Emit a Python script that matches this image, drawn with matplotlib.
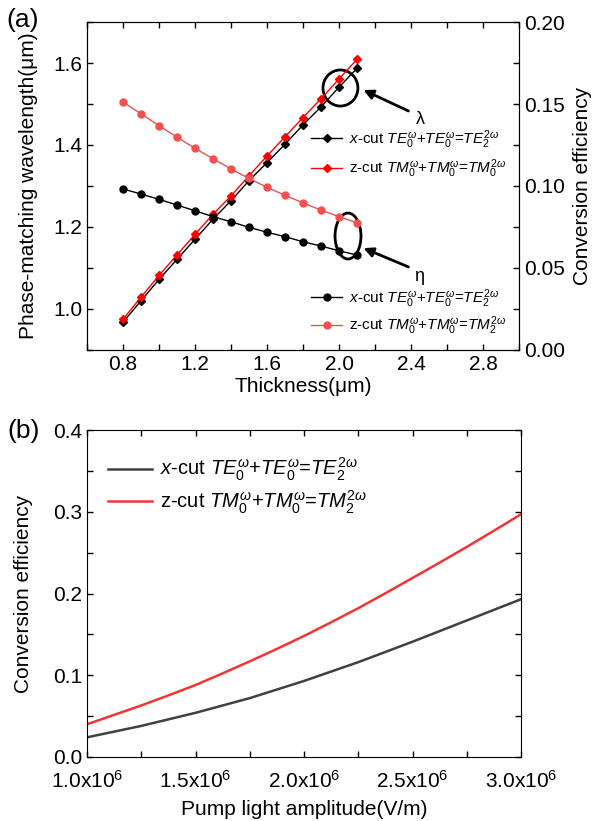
import matplotlib as mpl
mpl.use('Agg')
import matplotlib.pyplot as plt
import numpy as np
from matplotlib.patches import Ellipse
from matplotlib.ticker import MultipleLocator, FuncFormatter

plt.rcParams['font.family'] = ['Liberation Sans', 'DejaVu Sans']
plt.rcParams['mathtext.fontset'] = 'custom'
plt.rcParams['mathtext.rm'] = 'Liberation Sans'
plt.rcParams['mathtext.it'] = 'Liberation Sans:italic'
plt.rcParams['mathtext.bf'] = 'Liberation Sans:bold'

# (a) thickness sweep
thickness = [0.8, 0.9, 1.0, 1.1, 1.2, 1.3, 1.4, 1.5, 1.6, 1.7, 1.8, 1.9, 2.0, 2.1]
lam_x = [0.968, 1.020, 1.072, 1.121, 1.170, 1.219, 1.264, 1.313, 1.357, 1.402, 1.449, 1.493, 1.541, 1.587]
lam_z = [0.975, 1.029, 1.082, 1.132, 1.182, 1.231, 1.276, 1.325, 1.373, 1.420, 1.467, 1.513, 1.561, 1.609]
eta_x = [0.0982, 0.0951, 0.0919, 0.0884, 0.0849, 0.0813, 0.0782, 0.0748, 0.0718, 0.0691, 0.0660, 0.0634, 0.0605, 0.0579]
eta_z = [0.1512, 0.1440, 0.1368, 0.1298, 0.1230, 0.1166, 0.1104, 0.1046, 0.0992, 0.0943, 0.0897, 0.0853, 0.0813, 0.0776]

# (b) pump amplitude sweep
pump = [1.0e6, 1.125e6, 1.25e6, 1.375e6, 1.5e6, 1.625e6, 1.75e6, 1.875e6, 2.0e6,
        2.125e6, 2.25e6, 2.375e6, 2.5e6, 2.625e6, 2.75e6, 2.875e6, 3.0e6]
ce_x = [0.024, 0.031, 0.038, 0.046, 0.054, 0.063, 0.072, 0.0825, 0.093,
        0.1045, 0.116, 0.1285, 0.141, 0.154, 0.167, 0.180, 0.193]
ce_z = [0.040, 0.0515, 0.063, 0.0753, 0.088, 0.1023, 0.117, 0.1322, 0.148,
        0.1648, 0.182, 0.2003, 0.219, 0.2378, 0.257, 0.2768, 0.297]

lab_x = r'$\mathit{x}$-cut $\mathit{TE}_\mathit{0}^{\omega}$+$\mathit{TE}_\mathit{0}^{\omega}$=$\mathit{TE}_\mathit{2}^{2\omega}$'
lab_z_lam = r'z-cut $\mathit{TM}_\mathit{0}^{\omega}$+$\mathit{TM}_\mathit{0}^{\omega}$=$\mathit{TM}_\mathit{0}^{2\omega}$'
lab_z_eta = r'z-cut $\mathit{TM}_\mathit{0}^{\omega}$+$\mathit{TM}_\mathit{0}^{\omega}$=$\mathit{TM}_\mathit{2}^{2\omega}$'

fs = 15

fig = plt.figure(figsize=(5.98, 8.21), dpi=100)

# ---------------- panel (a)
ax1 = fig.add_axes([0.1455, 0.5737, 0.7224, 0.3995])
ax2 = ax1.twinx()

ax1.plot(thickness, lam_x, '-', color='k', lw=1.0, marker='D', ms=4.5, label=lab_x)
ax1.plot(thickness, lam_z, '-', color='#ff0000', lw=1.0, marker='D', ms=4.5, label=lab_z_lam)
ax2.plot(thickness, eta_x, '-', color='k', lw=1.0, marker='o', ms=5, label=lab_x)
ax2.plot(thickness, eta_z, '-', color='#f05050', lw=1.0, marker='o', ms=5, label=lab_z_eta)

ax1.set_xlim(0.6, 3.0)
ax1.set_ylim(0.9, 1.7)
ax2.set_ylim(0, 0.2)
ax1.xaxis.set_major_locator(MultipleLocator(0.4))
ax1.xaxis.set_minor_locator(MultipleLocator(0.2))
ax1.yaxis.set_major_locator(MultipleLocator(0.2))
ax1.yaxis.set_minor_locator(MultipleLocator(0.1))
ax2.yaxis.set_major_locator(MultipleLocator(0.05))
ax2.yaxis.set_minor_locator(MultipleLocator(0.025))
ax1.xaxis.set_major_formatter(FuncFormatter(lambda v, p: '%.1f' % v))
ax1.yaxis.set_major_formatter(FuncFormatter(lambda v, p: '%.1f' % v))
ax2.yaxis.set_major_formatter(FuncFormatter(lambda v, p: '%.2f' % v))

ax1.tick_params(which='both', direction='in', top=True, right=False, labelsize=fs, length=4.5, width=1)
ax2.tick_params(which='both', direction='in', labelsize=fs, length=4.5, width=1)

ax1.set_xlabel('Thickness(\u03bcm)', fontsize=fs, labelpad=2)
ax1.set_ylabel('Phase-matching wavelength(\u03bcm)', fontsize=fs, labelpad=11)
ax2.set_ylabel('Conversion efficiency', fontsize=fs, labelpad=6)

ax1.legend(loc='upper left', bbox_to_anchor=(0.505, 0.695), frameon=False, fontsize=11,
           handlelength=2.0, handletextpad=0.5, labelspacing=0.45, borderaxespad=0)
ax2.legend(loc='upper left', bbox_to_anchor=(0.505, 0.21), frameon=False, fontsize=11,
           handlelength=2.0, handletextpad=0.5, labelspacing=0.3, borderaxespad=0)

# annotations
ax1.add_patch(Ellipse((2.008, 1.539), 0.194, 0.088, fill=False, lw=2, ec='k'))
ax1.annotate('', xy=(2.122, 1.537), xytext=(2.40, 1.480),
             arrowprops=dict(arrowstyle='-|>', lw=2, color='k', mutation_scale=14))
ax1.text(2.45, 1.462, '\u03bb', fontsize=13, ha='center', va='center')
ax1.add_patch(Ellipse((2.05, 1.178), 0.144, 0.112, fill=False, lw=2, ec='k'))
ax1.annotate('', xy=(2.122, 1.151), xytext=(2.40, 1.10),
             arrowprops=dict(arrowstyle='-|>', lw=2, color='k', mutation_scale=14))
ax1.text(2.445, 1.080, '\u03b7', fontsize=13, ha='center', va='center')

fig.text(0.010, 0.9756, '(a)', fontsize=19, ha='left', va='center')

# ---------------- panel (b)
ax3 = fig.add_axes([0.1455, 0.078, 0.7258, 0.3982])
ax3.plot(pump, ce_x, '-', color='#404040', lw=1.8, label=lab_x)
ax3.plot(pump, ce_z, '-', color='#f03535', lw=1.8, label=lab_z_eta)
ax3.set_xlim(1.0e6, 3.0e6)
ax3.set_ylim(0, 0.4)
ax3.xaxis.set_major_locator(MultipleLocator(0.5e6))
ax3.xaxis.set_minor_locator(MultipleLocator(0.25e6))
ax3.yaxis.set_major_locator(MultipleLocator(0.1))
ax3.yaxis.set_minor_locator(MultipleLocator(0.05))
ax3.xaxis.set_major_formatter(FuncFormatter(lambda v, p: r'%.1fx10$^{6}$' % (v / 1e6)))
ax3.yaxis.set_major_formatter(FuncFormatter(lambda v, p: '%.1f' % v))
ax3.tick_params(which='both', direction='in', top=True, right=True, labelsize=fs, length=4.5, width=1)
ax3.tick_params(axis='x', pad=9)
ax3.set_xlabel('Pump light amplitude(V/m)', fontsize=fs, labelpad=6)
ax3.set_ylabel('Conversion efficiency', fontsize=fs, labelpad=14)
ax3.legend(loc='upper left', bbox_to_anchor=(0.03, 0.945), frameon=False, fontsize=14.5,
           handlelength=2.2, handletextpad=0.4, labelspacing=0.25, borderaxespad=0)

fig.text(0.012, 0.475, '(b)', fontsize=19, ha='left', va='center')

plt.savefig('out.png', dpi=100)
plt.close(fig)
